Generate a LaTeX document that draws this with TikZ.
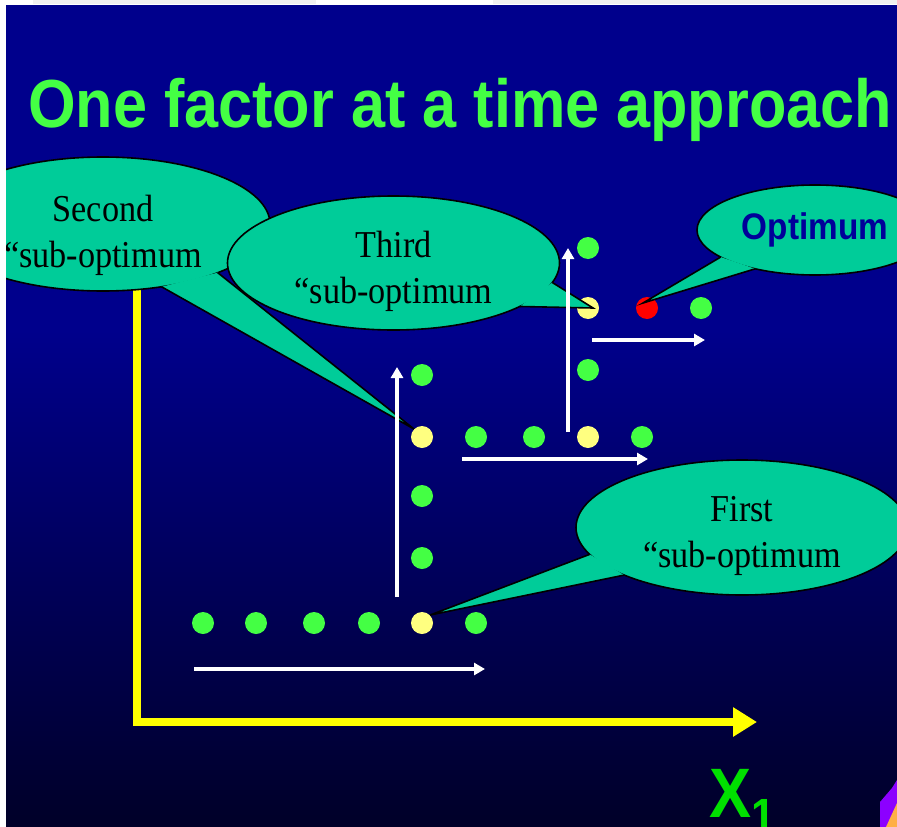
\documentclass[tikz,border=0pt]{standalone}
\usepackage{fontspec}
\setmainfont{Liberation Serif}
\newfontfamily\titlefont[FakeStretch=0.9]{Liberation Sans}
\newfontfamily\bubblefont[FakeStretch=0.9]{Liberation Serif}
\usetikzlibrary{
  shapes.geometric,
  arrows.meta,
  calc
}
\definecolor{slideblue}{RGB}{0,0,140}
\definecolor{slidenavy}{RGB}{0,0,40}
\definecolor{titlegreen}{HTML}{44FF44}
\definecolor{bubblegreen}{HTML}{00CC99}
\definecolor{pointyellow}{HTML}{FFFF80}
\definecolor{optblue}{HTML}{000099}
\definecolor{labelgreen}{HTML}{00E000}
\definecolor{axisyellow}{HTML}{FFFF00}
\definecolor{cornerpurple}{RGB}{140,0,255}
\definecolor{cornerorange}{RGB}{255,175,70}

\begin{document}
\begin{tikzpicture}[
    x=1pt, y=-1pt,
    bubble/.style={
      ellipse, draw=black, line width=1.6pt, fill=bubblegreen,
      inner sep=-20pt, outer sep=0pt, align=center,
      font=\bubblefont\fontsize{38}{46}\selectfont
    },
    tailline/.style={draw=black, line width=1.6pt},
    point/.style={circle, inner sep=0pt, minimum size=22pt, fill=titlegreen},
    bestpoint/.style={point, fill=pointyellow},
    moveline/.style={draw=white, line width=3.5pt,
      -{Triangle[length=11pt, width=12pt]}},
    axisline/.style={draw=axisyellow, line width=8pt,
      -{Triangle[length=24pt, width=28pt]}},
  ]

  % --- Background ---
  \path[use as bounding box, clip] (0,0) rectangle (897,827);
  \fill[white] (0,0) rectangle (897,827);
  \fill[slideblue] (6,5) rectangle (897,331);
  \shade[top color=slideblue, bottom color=slidenavy] (6,330) rectangle (897,827);

  % --- Axis ---
  \coordinate (axistop) at (137,250);
  \coordinate (axiscorner) at (137,722);
  \coordinate (axisend) at (757,722);
  \draw[axisline] (axistop) -- (axiscorner) -- (axisend);

  % --- Trial points ---
  \foreach \x [count=\i] in {203,256,314,369}
    \node[point] (a\i) at (\x,623) {};
  \node[bestpoint] (a5) at (422,623) {};
  \node[point] (a6) at (476,623) {};

  \foreach \y [count=\i] in {558,496}
    \node[point] (b\i) at (422,\y) {};
  \node[bestpoint] (b3) at (422,437) {};
  \node[point] (b4) at (422,375) {};

  \foreach \x [count=\i] in {476,534}
    \node[point] (c\i) at (\x,437) {};
  \node[bestpoint] (c3) at (588,437) {};
  \node[point] (c4) at (642,437) {};

  \node[point] (d1) at (588,370) {};
  \node[bestpoint] (d2) at (588,308) {};
  \node[point] (d3) at (588,248) {};

  \node[point, fill=red] (e1) at (647,308) {};
  \node[point] (e2) at (701,308) {};

  % --- Callouts ---
  \node[bubble, minimum width=334pt, minimum height=134pt] (second) at (103,224)
    {\rule{0pt}{50pt}Second\\“sub-optimum};
  \fill[bubblegreen] (second.-23) -- (b3.north west) -- (second.-47) -- cycle;
  \draw[tailline] (second.-23) -- (b3.north west) -- (second.-47);

  \node[bubble, minimum width=332pt, minimum height=134pt] (third) at (393.5,263)
    {\rule{0pt}{43pt}Third\\“sub-optimum};
  \coordinate (thirdtip) at ($(d2)!0.45!(d2.east)$);
  \fill[bubblegreen] (third.-7) -- (thirdtip) -- (third.-19) -- cycle;
  \draw[tailline] (third.-7) -- (thirdtip) -- (third.-19);

  \node[bubble, minimum width=332pt, minimum height=135pt] (first) at (742,527.5)
    {\rule{0pt}{43pt}First\\“sub-optimum};
  \fill[bubblegreen] (first.190) -- (a5.north east) -- (first.202) -- cycle;
  \draw[tailline] (first.190) -- (a5.north east) -- (first.202);

  \node[bubble, minimum width=236pt, minimum height=90pt, text=optblue,
    font=\titlefont\bfseries\fontsize{37}{37}\selectfont] (optimum) at (815,230)
    {Optimum};
  \coordinate (opttip) at ($(e1)+(-4,-5)$);
  \fill[bubblegreen] (optimum.196) -- (opttip) -- (optimum.213) -- cycle;
  \draw[tailline] (optimum.196) -- (opttip) -- (optimum.213);

  % --- Search moves ---
  \coordinate (m1s) at (194,669);  \coordinate (m1e) at (485,669);
  \coordinate (m2s) at (397,597);  \coordinate (m2e) at (397,367);
  \coordinate (m3s) at (462,459);  \coordinate (m3e) at (648,459);
  \coordinate (m4s) at (568,432);  \coordinate (m4e) at (568,248);
  \coordinate (m5s) at (592,340);  \coordinate (m5e) at (705,340);
  \foreach \m in {1,...,5}
    \draw[moveline] (m\m s) -- (m\m e);

  % --- Labels ---
  \node[font=\titlefont\bfseries\fontsize{68}{68}\selectfont, text=titlegreen,
    anchor=base west, inner sep=0pt] (title) at (28,127)
    {One factor at a time approach};
  \node[font=\titlefont\bfseries\fontsize{70}{70}\selectfont, text=labelgreen,
    anchor=base west, inner sep=0pt] (xlabel) at (709,817)
    {X\raisebox{-15pt}{\fontsize{48}{48}\selectfont 1}};

  % --- Corner picture (cut off) ---
  \fill[cornerpurple] (880,827) -- (880,802) -- (892,788) -- (897,780) -- (897,827) -- cycle;
  \fill[cornerorange] (886,827) -- (897,803) -- (897,827) -- cycle;

  % --- Margins ---
  \fill[white] (0,0) rectangle (6,827);
  \fill[white] (0,0) rectangle (897,5);
  \fill[black!6] (33,0) rectangle (316,4);
  \fill[black!6] (493,0) rectangle (897,4);

\end{tikzpicture}
\end{document}
